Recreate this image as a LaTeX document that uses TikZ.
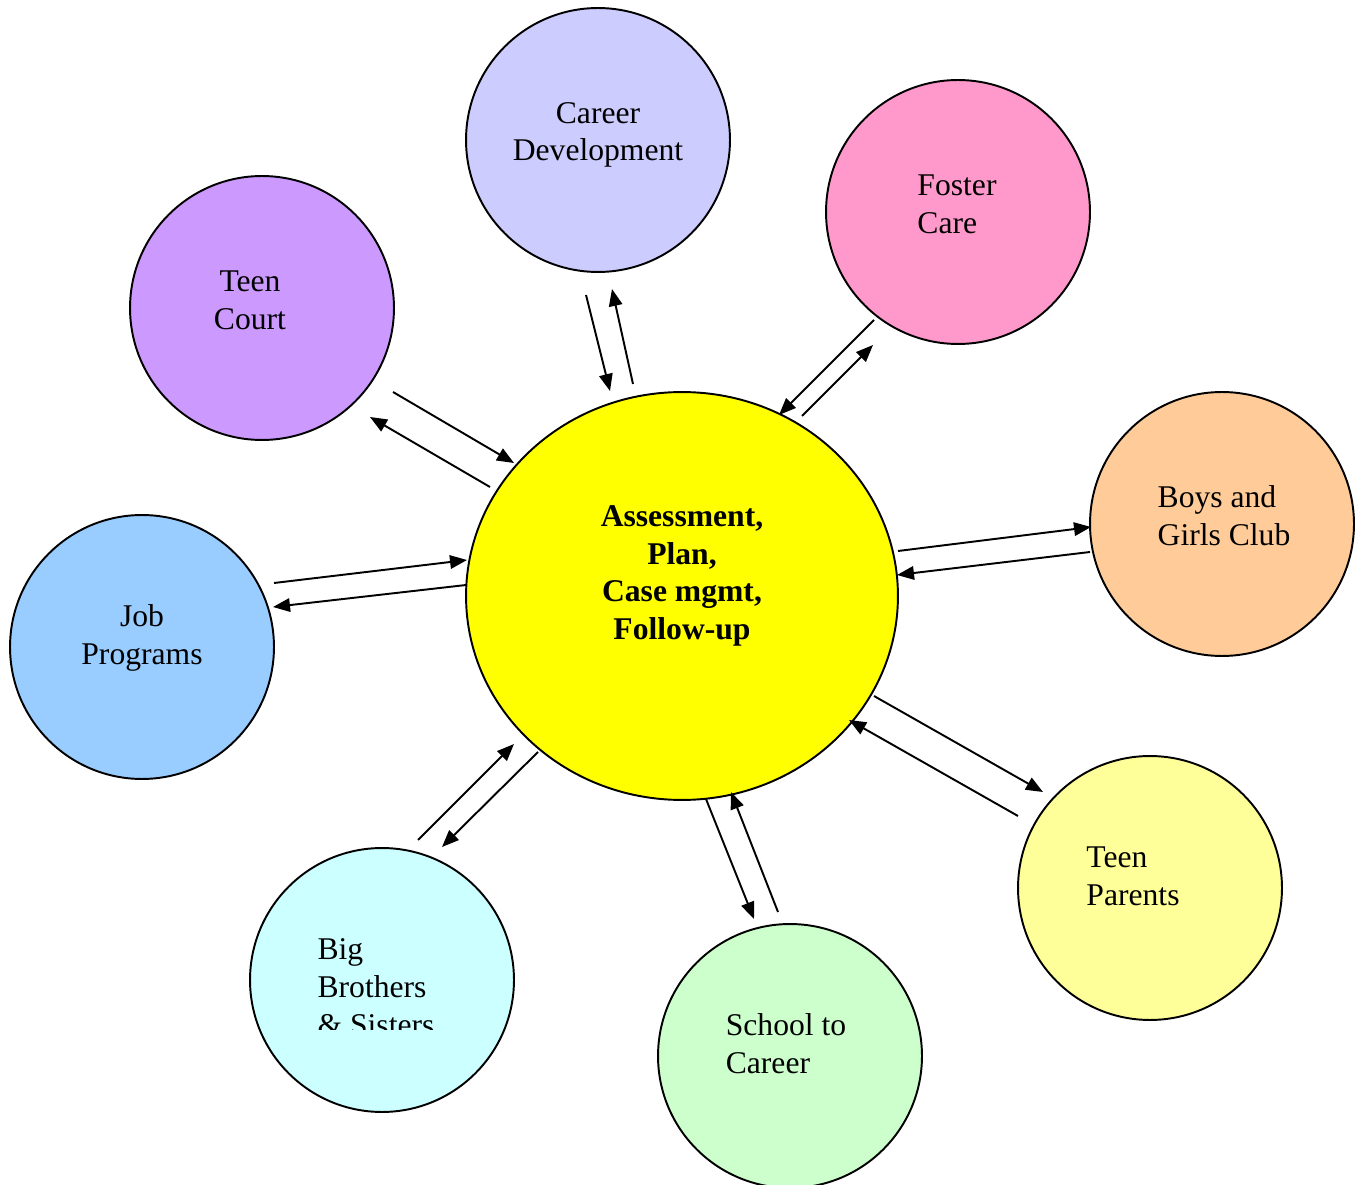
\documentclass[tikz,border=0pt]{standalone}
\usepackage{fontspec}
\setmainfont{Liberation Serif}
\usetikzlibrary{shapes.geometric,arrows.meta}

\definecolor{hubcol}{HTML}{FFFF00}
\definecolor{careercol}{HTML}{CCCCFF}
\definecolor{fostercol}{HTML}{FF99CC}
\definecolor{courtcol}{HTML}{CC99FF}
\definecolor{clubcol}{HTML}{FFCC99}
\definecolor{jobcol}{HTML}{99CCFF}
\definecolor{bigcol}{HTML}{CCFFFF}
\definecolor{schoolcol}{HTML}{CCFFCC}
\definecolor{parentscol}{HTML}{FFFF99}

\tikzset{
	bubble/.style={circle,draw,line width=1.1pt,minimum size=5.28cm,inner sep=0pt},
	caption/.style={inner sep=0pt,font=\fontsize{18}{21.5}\selectfont},
	link/.style={line width=1.1pt,-{Triangle[length=0.34cm,width=0.27cm]}}
}

\begin{document}
\begin{tikzpicture}[x=0.02cm,y=-0.02cm]
	\clip (0,0) rectangle (1356,1185);

	% the circles
	\node[ellipse,draw,fill=hubcol,line width=1.1pt,minimum width=8.64cm,minimum height=8.16cm] (hub) at (682,596) {};
	\node[bubble,fill=careercol] (career) at (598,140) {};
	\node[bubble,fill=fostercol] (foster) at (958,212) {};
	\node[bubble,fill=courtcol] (court) at (262,308) {};
	\node[bubble,fill=clubcol] (club) at (1222,524) {};
	\node[bubble,fill=jobcol] (job) at (142,647) {};
	\node[bubble,fill=bigcol] (big) at (382,980) {};
	\node[bubble,fill=schoolcol] (school) at (790,1056) {};
	\node[bubble,fill=parentscol] (parents) at (1150,888) {};

	% the texts
	\node[caption,align=center,font=\fontsize{18}{21.5}\selectfont\bfseries] (hubtext) at (682,576) {Assessment,\\Plan,\\Case mgmt,\\Follow-up};
	\node[caption,align=center] (careertext) at (598,135) {Career\\Development};
	\node[caption,align=left] (fostertext) at (957,204) {Foster\\Care};
	\node[caption,align=center] (courttext) at (250,300) {Teen\\Court};
	\node[caption,align=left] (clubtext) at (1224,516) {Boys and\\Girls Club};
	\node[caption,align=center] (jobtext) at (142,638) {Job\\Programs};
	\node[caption,align=left] (schooltext) at (786,1044) {School to\\Career};
	\node[caption,align=left] (parentstext) at (1133,876) {Teen\\Parents};
	\begin{scope}
		\clip (300,920) rectangle (460,1029);
		\node[caption,align=left] (bigtext) at (376,987) {Big\\Brothers\\\& Sisters};
	\end{scope}

	% the arrows
	\coordinate (careerA) at (633,384);
	\coordinate (careerB) at (612,289);
	\coordinate (careerC) at (586,295);
	\coordinate (careerD) at (610,391);
	\coordinate (fosterA) at (802,416);
	\coordinate (fosterB) at (873,345);
	\coordinate (fosterC) at (874,320);
	\coordinate (fosterD) at (779,415);
	\coordinate (courtA) at (490,487);
	\coordinate (courtB) at (370,417);
	\coordinate (courtC) at (393,392);
	\coordinate (courtD) at (514,463);
	\coordinate (clubA) at (898,551);
	\coordinate (clubB) at (1091,527);
	\coordinate (clubC) at (1090,552);
	\coordinate (clubD) at (897,575);
	\coordinate (jobA) at (466,585);
	\coordinate (jobB) at (273,607);
	\coordinate (jobC) at (274,583);
	\coordinate (jobD) at (467,560);
	\coordinate (bigA) at (538,752);
	\coordinate (bigB) at (442,847);
	\coordinate (bigC) at (418,840);
	\coordinate (bigD) at (514,744);
	\coordinate (schoolA) at (706,799);
	\coordinate (schoolB) at (754,919);
	\coordinate (schoolC) at (778,912);
	\coordinate (schoolD) at (731,792);
	\coordinate (parentsA) at (874,696);
	\coordinate (parentsB) at (1043,792);
	\coordinate (parentsC) at (1018,816);
	\coordinate (parentsD) at (849,720);

	\foreach \name in {career,foster,court,club,job,big,school,parents}{
		\draw[link] (\name A) -- (\name B);
		\draw[link] (\name C) -- (\name D);
	}
\end{tikzpicture}
\end{document}
